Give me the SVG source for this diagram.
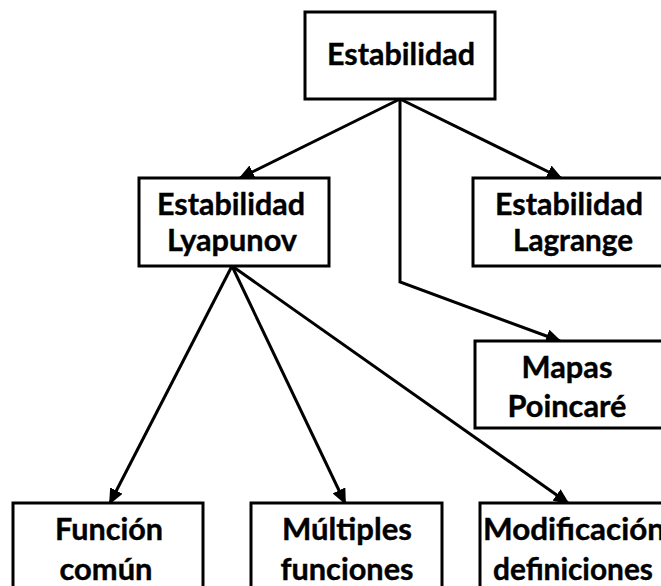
<svg xmlns="http://www.w3.org/2000/svg" width="661" height="586" viewBox="0 0 661 586">
  <style>
    .box { fill: #ffffff; stroke: #000000; stroke-width: 3; }
    .lbl { font-family: Lato, "Open Sans", "Liberation Sans", sans-serif; font-weight: bold; font-size: 31px; fill: #000000; stroke: #000000; stroke-width: 0.4; text-anchor: middle; }
    .edge { fill: none; stroke: #000000; stroke-width: 3; stroke-linejoin: miter; marker-end: url(#arrow); }
  </style>
  <defs>
    <marker id="arrow" markerUnits="userSpaceOnUse" markerWidth="16" markerHeight="14" refX="14" refY="7" orient="auto">
      <path d="M0,0 L16,7 L0,14 z" fill="#000000"/>
    </marker>
  </defs>
  <rect width="661" height="586" fill="#ffffff"/>

  <g id="connectors">
    <path class="edge" d="M400,99 L240,178"/>
    <path class="edge" d="M400,99 L561,178"/>
    <path class="edge" d="M400,99 L400,282 L560,341"/>
    <path class="edge" d="M232,266 L110,503"/>
    <path class="edge" d="M232,266 L345,503"/>
    <path class="edge" d="M232,266 L568,503"/>
  </g>

  <g id="estabilidad">
    <rect class="box" x="305" y="12" width="190" height="87"/>
    <text class="lbl" x="401" y="65" textLength="148" lengthAdjust="spacingAndGlyphs">Estabilidad</text>
  </g>

  <g id="lyapunov">
    <rect class="box" x="139" y="178" width="190" height="88"/>
    <text class="lbl" x="231" y="215" textLength="148" lengthAdjust="spacingAndGlyphs">Estabilidad</text>
    <text class="lbl" x="232" y="251" textLength="130" lengthAdjust="spacingAndGlyphs">Lyapunov</text>
  </g>

  <g id="lagrange">
    <rect class="box" x="473" y="178" width="192" height="88"/>
    <text class="lbl" x="569" y="215" textLength="148" lengthAdjust="spacingAndGlyphs">Estabilidad</text>
    <text class="lbl" x="573" y="251" textLength="120" lengthAdjust="spacingAndGlyphs">Lagrange</text>
  </g>

  <g id="poincare">
    <rect class="box" x="475" y="341" width="192" height="87"/>
    <text class="lbl" x="567" y="378" textLength="91" lengthAdjust="spacingAndGlyphs">Mapas</text>
    <text class="lbl" x="567" y="417" textLength="119" lengthAdjust="spacingAndGlyphs">Poincaré</text>
  </g>

  <g id="funcion-comun">
    <rect class="box" x="13" y="503" width="190" height="100"/>
    <text class="lbl" x="109" y="540" textLength="108" lengthAdjust="spacingAndGlyphs">Función</text>
    <text class="lbl" x="106" y="580" textLength="93" lengthAdjust="spacingAndGlyphs">común</text>
  </g>

  <g id="multiples-funciones">
    <rect class="box" x="251" y="503" width="191" height="100"/>
    <text class="lbl" x="347" y="540" textLength="130" lengthAdjust="spacingAndGlyphs">Múltiples</text>
    <text class="lbl" x="347" y="580" textLength="133" lengthAdjust="spacingAndGlyphs">funciones</text>
  </g>

  <g id="modificacion-definiciones">
    <rect class="box" x="480" y="503" width="192" height="100"/>
    <text class="lbl" x="574" y="540" textLength="182" lengthAdjust="spacingAndGlyphs">Modificación</text>
    <text class="lbl" x="573" y="580" textLength="160" lengthAdjust="spacingAndGlyphs">definiciones</text>
  </g>
</svg>
